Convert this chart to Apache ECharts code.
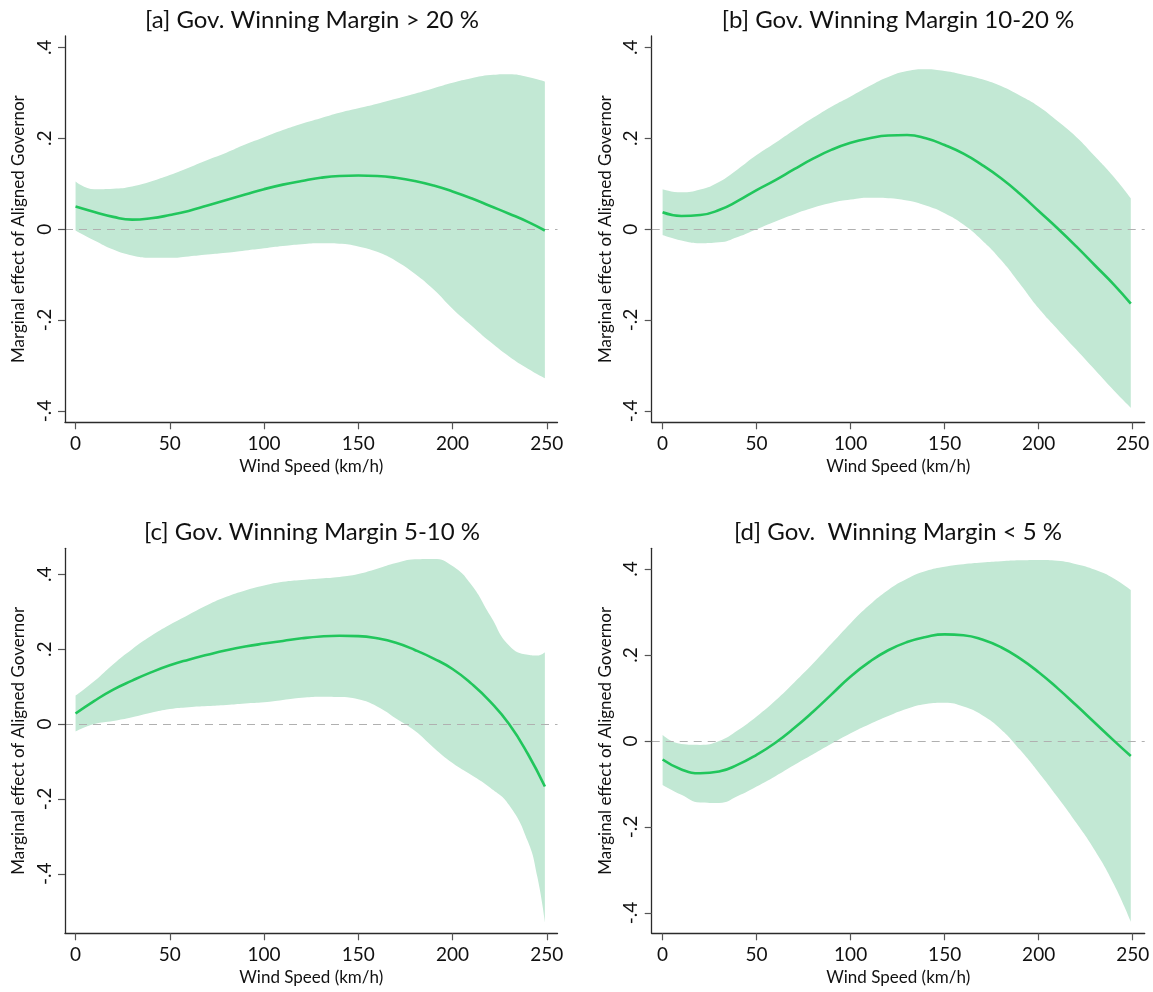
<!DOCTYPE html>
<html>
<head>
<meta charset="utf-8">
<script src="https://cdn.jsdelivr.net/npm/echarts@6/dist/echarts.min.js"></script>
<style>
html,body{margin:0;padding:0;background:#fff;}
#main{width:1153px;height:992px;}
</style>
</head>
<body>
<div id="main"></div>
<script>
// ---- data ----
const titles = [
  '[a] Gov. Winning Margin > 20 %',
  '[b] Gov. Winning Margin 10-20 %',
  '[c] Gov. Winning Margin 5-10 %',
  '[d] Gov.  Winning Margin < 5 %'
];
const xTitle = 'Wind Speed (km/h)';
const yTitle = 'Marginal effect of Aligned Governor';
const xTicks = [0, 50, 100, 150, 200, 250];
const yTicks = [-0.4, -0.2, 0, 0.2, 0.4];
const yTickLabels = ['-.4', '-.2', '0', '.2', '.4'];

const xs  = [0,10,20,30,40,50,60,70,80,90,100,110,120,130,140,150,160,170,180,190,200,210,220,230,240,249];
const xsC = [0,10,20,30,40,50,60,70,80,90,100,110,120,130,140,150,160,170,180,190,200,210,220,230,240,245,249];

const lineA  = [0.05,0.038,0.027,0.021,0.024,0.031,0.040,0.052,0.064,0.076,0.088,0.098,0.106,0.113,0.117,0.118,0.117,0.113,0.106,0.096,0.083,0.068,0.051,0.034,0.016,-0.003];
const upperA = [0.105,0.088,0.089,0.094,0.105,0.119,0.135,0.152,0.168,0.186,0.202,0.218,0.232,0.244,0.256,0.266,0.276,0.287,0.298,0.31,0.322,0.332,0.339,0.341,0.335,0.325];
const lowerA = [-0.003,-0.025,-0.045,-0.058,-0.063,-0.063,-0.060,-0.056,-0.052,-0.047,-0.042,-0.037,-0.033,-0.031,-0.032,-0.038,-0.050,-0.070,-0.098,-0.133,-0.175,-0.212,-0.248,-0.28,-0.307,-0.328];

const lineB  = [0.037,0.029,0.031,0.042,0.062,0.086,0.108,0.132,0.155,0.175,0.19,0.2,0.206,0.207,0.2,0.185,0.166,0.141,0.112,0.078,0.04,0.002,-0.038,-0.08,-0.122,-0.164];
const upperB = [0.088,0.081,0.087,0.104,0.132,0.163,0.19,0.218,0.245,0.27,0.292,0.315,0.335,0.348,0.352,0.348,0.340,0.330,0.315,0.294,0.270,0.238,0.203,0.160,0.115,0.068];
const lowerB = [-0.013,-0.025,-0.031,-0.029,-0.017,0.000,0.017,0.033,0.047,0.058,0.065,0.069,0.068,0.063,0.052,0.035,0.010,-0.025,-0.068,-0.12,-0.174,-0.22,-0.265,-0.31,-0.355,-0.393];

const lineC  = [0.028,0.062,0.092,0.116,0.138,0.157,0.172,0.185,0.197,0.207,0.215,0.222,0.229,0.234,0.236,0.235,0.229,0.217,0.198,0.175,0.147,0.108,0.060,0.0,-0.08,-0.167];
const upperC = [0.076,0.115,0.16,0.2,0.235,0.265,0.292,0.318,0.34,0.357,0.37,0.38,0.385,0.389,0.393,0.401,0.415,0.43,0.44,0.441,0.422,0.372,0.29,0.21,0.185,0.183,0.192];
const lowerC = [-0.02,0.0,0.008,0.018,0.030,0.040,0.045,0.048,0.051,0.055,0.058,0.064,0.070,0.073,0.072,0.066,0.047,0.015,-0.018,-0.063,-0.104,-0.136,-0.170,-0.216,-0.314,-0.408,-0.529];

const lineD  = [-0.043,-0.066,-0.075,-0.071,-0.055,-0.032,-0.004,0.03,0.068,0.109,0.15,0.184,0.211,0.230,0.242,0.248,0.246,0.236,0.218,0.192,0.160,0.123,0.083,0.042,0.001,-0.035];
const upperD = [0.014,-0.007,-0.009,0.0,0.025,0.057,0.094,0.136,0.180,0.227,0.274,0.316,0.351,0.377,0.395,0.405,0.411,0.415,0.418,0.420,0.421,0.419,0.411,0.398,0.378,0.351];
const lowerD = [-0.102,-0.125,-0.143,-0.144,-0.128,-0.106,-0.082,-0.056,-0.031,-0.006,0.018,0.039,0.058,0.075,0.086,0.089,0.08,0.06,0.027,-0.02,-0.073,-0.13,-0.19,-0.255,-0.333,-0.42];

// ---- layout / style ----
const FONT = 'Lato, "Open Sans", sans-serif';
const LINE_COLOR = '#21c65c';
const BAND_COLOR = '#c2e8d4';
const AXIS_COLOR = '#2b2b2b';
const SMOOTH = 0.5;

const panels = [
  {lx: xs, bx: xs,  line: lineA, up: upperA, lo: lowerA, grid: {left: 65,    top: 36,    width: 492.5, height: 386.3}, xr: [-5.6, 255.7], yr: [-0.425, 0.425], tx: 312, ty: 20},
  {lx: xs, bx: xs,  line: lineB, up: upperB, lo: lowerB, grid: {left: 651.7, top: 36,    width: 493,   height: 386.3}, xr: [-5.8, 256.4], yr: [-0.425, 0.425], tx: 898, ty: 20},
  {lx: xs, bx: xsC, line: lineC, up: upperC, lo: lowerC, grid: {left: 65,    top: 548.3, width: 492.5, height: 385},   xr: [-5.6, 255.7], yr: [-0.559, 0.4695], tx: 312, ty: 532},
  {lx: xs, bx: xs,  line: lineD, up: upperD, lo: lowerD, grid: {left: 651.7, top: 548.3, width: 493,   height: 385},   xr: [-5.8, 256.4], yr: [-0.447, 0.448], tx: 898, ty: 532}
];

const grid = [], xAxis = [], yAxis = [], series = [], graphic = [];
panels.forEach((p, i) => {
  grid.push(Object.assign({containLabel: false}, p.grid));
  xAxis.push({
    type: 'value', gridIndex: i, min: p.xr[0], max: p.xr[1], z: 10,
    name: xTitle, nameLocation: 'middle', nameGap: 36,
    nameTextStyle: {fontFamily: FONT, fontSize: 17, color: '#111'},
    splitLine: {show: false},
    axisLine: {show: true, onZero: false, lineStyle: {color: AXIS_COLOR, width: 1.3}},
    axisTick: {show: true, length: 7, customValues: xTicks, lineStyle: {color: '#555', width: 1.2}},
    axisLabel: {customValues: xTicks, margin: 12, fontFamily: FONT, fontSize: 19, color: '#111'}
  });
  yAxis.push({
    type: 'value', gridIndex: i, min: p.yr[0], max: p.yr[1], z: 10,
    name: yTitle, nameLocation: 'middle', nameGap: 38,
    nameTextStyle: {fontFamily: FONT, fontSize: 17, color: '#111'},
    splitLine: {show: false},
    axisLine: {show: true, onZero: false, lineStyle: {color: AXIS_COLOR, width: 1.3}},
    axisTick: {show: true, length: 7, customValues: yTicks, lineStyle: {color: '#555', width: 1.2}},
    axisLabel: {customValues: yTicks, rotate: 90, margin: 11, fontFamily: FONT, fontSize: 19, color: '#111',
      formatter: v => { const k = yTicks.findIndex(t => Math.abs(t - v) < 1e-9); return k >= 0 ? yTickLabels[k] : ''; }}
  });
  // confidence band: lower edge + stacked width; value stored first so it is the stacked dimension
  const stackName = 'band' + i;
  series.push({
    type: 'line', xAxisIndex: i, yAxisIndex: i, stack: stackName, stackStrategy: 'all',
    encode: {x: 1, y: 0},
    data: p.bx.map((x, k) => [p.lo[k], x]), smooth: SMOOTH, symbol: 'none',
    lineStyle: {width: 0, opacity: 0}, silent: true, z: 1
  });
  series.push({
    type: 'line', xAxisIndex: i, yAxisIndex: i, stack: stackName, stackStrategy: 'all',
    encode: {x: 1, y: 0},
    data: p.bx.map((x, k) => [p.up[k] - p.lo[k], x]), smooth: SMOOTH, symbol: 'none',
    lineStyle: {width: 0, opacity: 0}, areaStyle: {color: BAND_COLOR, opacity: 1},
    silent: true, z: 1,
    markLine: {silent: true, symbol: 'none', label: {show: false}, animation: false,
      lineStyle: {color: '#b0b0b0', width: 1.1, type: [8, 6]},
      data: [{yAxis: 0}]}
  });
  series.push({
    type: 'line', xAxisIndex: i, yAxisIndex: i,
    data: p.lx.map((x, k) => [x, p.line[k]]), smooth: SMOOTH, symbol: 'none',
    lineStyle: {color: LINE_COLOR, width: 2.6}, silent: true, z: 6
  });
  graphic.push({
    type: 'text', x: p.tx, y: p.ty, silent: true,
    style: {text: titles[i], fontFamily: FONT, fontSize: 24, fill: '#111', align: 'center', verticalAlign: 'middle'}
  });
});

const chart = echarts.init(document.getElementById('main'), null, {renderer: 'canvas'});
chart.setOption({
  animation: false,
  backgroundColor: '#fff',
  grid, xAxis, yAxis, series, graphic
});
</script>
</body>
</html>
